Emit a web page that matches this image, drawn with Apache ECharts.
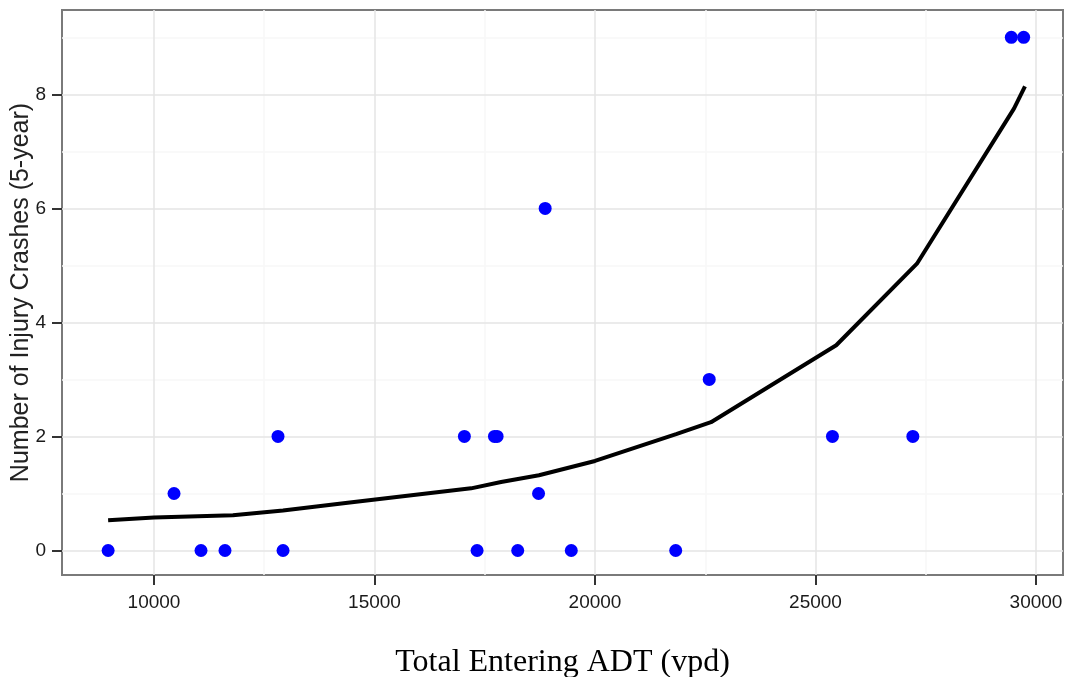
<!DOCTYPE html>
<html>
<head>
<meta charset="utf-8">
<style>
  html, body { margin: 0; padding: 0; background: #fff; }
  #chart { width: 1065px; height: 677px; }
</style>
<script src="https://cdn.jsdelivr.net/npm/echarts@6/dist/echarts.min.js"></script>
</head>
<body>
<div id="chart"></div>
<script>
// observed intersections
const adt = [8960, 10454, 11066, 11610, 12812, 12926, 17038, 17326, 17720, 17780, 18248, 18720, 18870, 19462, 21830, 22590, 25384, 27207, 29440, 29720]
const crashes = [0, 1, 0, 0, 2, 0, 2, 0, 2, 2, 0, 1, 6, 0, 0, 3, 2, 2, 9, 9]

// fitted curve
const fitAdt = [8960, 10000, 11790, 12925, 14440, 17190, 17870, 18730, 20000, 21840, 22630, 25470, 27300, 29500, 29750]
const fitCrashes = [0.53, 0.58, 0.62, 0.70, 0.84, 1.09, 1.20, 1.32, 1.57, 2.04, 2.25, 3.60, 5.03, 7.75, 8.14]

// axis ticks and grid
const xTicks = [10000, 15000, 20000, 25000, 30000]
const xMinor = [12500, 17500, 22500, 27500]
const yTicks = [0, 2, 4, 6, 8]
const yMinor = [1, 3, 5, 7, 9]

const chart = echarts.init(document.getElementById('chart'))

const gridLines = (values, dim, color, width) => values.map((v) => ({
  [dim]: v,
  lineStyle: { color, width, type: 'solid' }
}))

chart.setOption({
  animation: false,
  backgroundColor: '#fff',
  grid: {
    left: 62, right: 2, top: 10, bottom: 102,
    outerBoundsMode: 'none',
    containLabel: false,
    show: true,
    borderColor: '#7a7a7a',
    borderWidth: 2,
    backgroundColor: 'transparent'
  },
  xAxis: {
    type: 'value',
    min: 7914,
    max: 30612,
    name: 'Total Entering ADT (vpd)',
    nameLocation: 'middle',
    nameGap: 72,
    nameTextStyle: { fontFamily: 'Liberation Serif', fontSize: 32, color: '#000' },
    axisLine: { show: false, onZero: false },
    axisTick: { show: true, customValues: xTicks, length: 10, lineStyle: { color: '#333', width: 2 } },
    axisLabel: {
      customValues: xTicks, margin: 18, fontFamily: 'Liberation Sans', fontSize: 19, color: '#1a1a1a',
      formatter: (v) => String(v)
    },
    splitLine: { show: false }
  },
  yAxis: {
    type: 'value',
    min: -0.43,
    max: 9.48,
    name: 'Number of Injury Crashes (5-year)',
    nameLocation: 'middle',
    nameGap: 28,
    nameMoveOverlap: false,
    nameTextStyle: { fontFamily: 'Liberation Sans', fontSize: 25, color: '#222' },
    axisLine: { show: false, onZero: false },
    axisTick: { show: true, customValues: yTicks, length: 10, lineStyle: { color: '#333', width: 2 } },
    axisLabel: {
      customValues: yTicks, margin: 16, fontFamily: 'Liberation Sans', fontSize: 19, color: '#1a1a1a',
      formatter: (v) => String(v)
    },
    splitLine: { show: false }
  },
  series: [
    {
      name: 'grid',
      type: 'line',
      data: [],
      silent: true,
      z: 0,
      markLine: {
        z: 0,
        silent: true,
        symbol: ['none', 'none'],
        label: { show: false },
        animation: false,
        data: [
          ...gridLines(xMinor, 'xAxis', '#f7f7f7', 1.5),
          ...gridLines(yMinor, 'yAxis', '#f7f7f7', 1.5),
          ...gridLines(xTicks, 'xAxis', '#e5e5e5', 1.5),
          ...gridLines(yTicks, 'yAxis', '#e5e5e5', 1.5)
        ]
      }
    },
    {
      name: 'fit',
      type: 'line',
      data: fitAdt.map((x, i) => [x, fitCrashes[i]]),
      showSymbol: false,
      smooth: false,
      z: 2,
      lineStyle: { color: '#000', width: 4 }
    },
    {
      name: 'observed',
      type: 'scatter',
      data: adt.map((x, i) => [x, crashes[i]]),
      symbolSize: 13,
      z: 3,
      itemStyle: { color: '#0000ff', opacity: 1 }
    }
  ]
})
</script>
</body>
</html>
